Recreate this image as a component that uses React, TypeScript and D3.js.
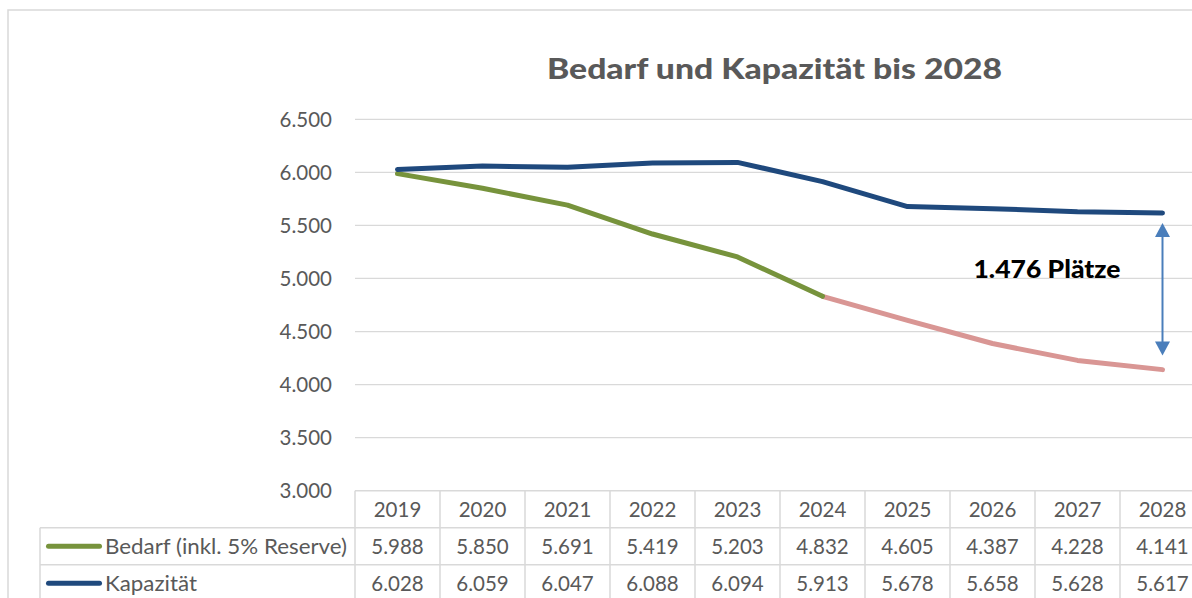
import React from 'react';
import * as d3 from 'd3';

const years = ['2019', '2020', '2021', '2022', '2023', '2024', '2025', '2026', '2027', '2028'];
const bedarf = [5988, 5850, 5691, 5419, 5203, 4832, 4605, 4387, 4228, 4141];
const kapazitaet = [6028, 6059, 6047, 6088, 6094, 5913, 5678, 5658, 5628, 5617];
const yTicks = [3000, 3500, 4000, 4500, 5000, 5500, 6000, 6500];
const lastActualYear = '2024';
const seriesNames = ['Bedarf (inkl. 5% Reserve)', 'Kapazität'];
const title = 'Bedarf und Kapazität bis 2028';
const gapLabel = '1.476 Plätze';

const FONT = 'Lato, "Open Sans", sans-serif';
const GRID = '#d9d9d9';
const TXT = '#595959';
const GREEN = '#77933c';
const PINK = '#d99694';
const BLUE = '#1f497d';
const ARROW = '#4a7ebb';

const de = d3.formatLocale({ decimal: ',', thousands: '.', grouping: [3], currency: ['', ' €'] });
const fmt = de.format(',d');

export default function App() {
  const W = 1192, H = 598;
  const plotLeft = 355, colW = 85;
  const plotRight = plotLeft + colW * years.length;
  const x = d3.scaleBand<string>().domain(years).range([plotLeft, plotRight]).paddingInner(0).paddingOuter(0);
  const cx = (yr: string) => (x(yr) as number) + x.bandwidth() / 2;
  const y = d3.scaleLinear().domain([3000, 6500]).range([490.7, 119.3]);

  const line = d3.line<[string, number]>().x(d => cx(d[0])).y(d => y(d[1]));
  const splitIdx = years.indexOf(lastActualYear);
  const bedPairs: [string, number][] = years.map((yr, i) => [yr, bedarf[i]]);
  const kapPairs: [string, number][] = years.map((yr, i) => [yr, kapazitaet[i]]);
  const bedActual = bedPairs.slice(0, splitIdx + 1);
  const bedForecast = bedPairs.slice(splitIdx);

  const tableTop = y(3000);
  const rowH = 37;
  const headerBottom = tableTop + rowH;
  const row1Bottom = headerBottom + rowH;
  const row2Bottom = row1Bottom + rowH;
  const tableLeft = 40;

  const lastYear = years[years.length - 1];
  const ax = cx(lastYear);
  const aTop = y(kapazitaet[kapazitaet.length - 1]) + 10;
  const aBot = y(bedarf[bedarf.length - 1]) - 14;
  const head = 14, headW = 7.5;

  const colLines = d3.range(years.length + 1).map(i => plotLeft + i * colW);
  const legX = 105;

  return (
    <svg width={W} height={H} style={{ position: 'absolute', left: 0, top: 0, background: '#fff' }} fontFamily={FONT}>
      <rect x={0} y={0} width={W} height={H} fill="#fff" />
      <rect x={8} y={10} width={W + 20} height={H + 20} fill="none" stroke={GRID} strokeWidth={1.5} />
      <text x={547} y={78.5} fontSize={28.5} fontWeight={900} fill={TXT} textLength={455} lengthAdjust="spacingAndGlyphs">{title}</text>

      {yTicks.map(t => (
        <g key={t}>
          {t > 3000 && <line x1={plotLeft} x2={W + 10} y1={y(t)} y2={y(t)} stroke={GRID} strokeWidth={1.3} />}
          <text x={332} y={y(t)} dy="0.36em" textAnchor="end" fontSize={20.5} fill={TXT}>{fmt(t)}</text>
        </g>
      ))}

      {/* table grid */}
      <line x1={plotLeft} x2={plotRight} y1={tableTop} y2={tableTop} stroke={GRID} strokeWidth={1.5} />
      <line x1={tableLeft} x2={plotRight} y1={headerBottom} y2={headerBottom} stroke={GRID} strokeWidth={1.5} />
      <line x1={tableLeft} x2={plotRight} y1={row1Bottom} y2={row1Bottom} stroke={GRID} strokeWidth={1.5} />
      <line x1={tableLeft} x2={plotRight} y1={row2Bottom} y2={row2Bottom} stroke={GRID} strokeWidth={1.5} />
      <line x1={tableLeft} x2={tableLeft} y1={headerBottom} y2={row2Bottom} stroke={GRID} strokeWidth={1.5} />
      {colLines.map(cxl => (
        <line key={cxl} x1={cxl} x2={cxl} y1={tableTop} y2={row2Bottom} stroke={GRID} strokeWidth={1.5} />
      ))}
      {years.map((yr, i) => (
        <g key={yr} fontSize={20.5} fill={TXT} textAnchor="middle">
          <text x={cx(yr)} y={tableTop + rowH / 2} dy="0.36em">{yr}</text>
          <text x={cx(yr)} y={headerBottom + rowH / 2} dy="0.36em">{fmt(bedarf[i])}</text>
          <text x={cx(yr)} y={row1Bottom + rowH / 2} dy="0.36em">{fmt(kapazitaet[i])}</text>
        </g>
      ))}
      {/* legend cells */}
      <line x1={48.5} x2={99.5} y1={headerBottom + rowH / 2} y2={headerBottom + rowH / 2} stroke={GREEN} strokeWidth={5} strokeLinecap="round" />
      <g transform={`translate(${legX},0) scale(1.09,1)`}>
        <text x={0} y={headerBottom + rowH / 2} dy="0.36em" fontSize={20.5} fill={TXT}>{seriesNames[0]}</text>
      </g>
      <line x1={48.5} x2={99.5} y1={row1Bottom + rowH / 2} y2={row1Bottom + rowH / 2} stroke={BLUE} strokeWidth={5} strokeLinecap="round" />
      <g transform={`translate(${legX},0) scale(1.09,1)`}>
        <text x={0} y={row1Bottom + rowH / 2} dy="0.36em" fontSize={20.5} fill={TXT}>{seriesNames[1]}</text>
      </g>

      {/* lines */}
      <path d={line(bedForecast) || ''} fill="none" stroke={PINK} strokeWidth={5} strokeLinecap="round" strokeLinejoin="round" />
      <path d={line(bedActual) || ''} fill="none" stroke={GREEN} strokeWidth={5} strokeLinecap="round" strokeLinejoin="round" />
      <path d={line(kapPairs) || ''} fill="none" stroke={BLUE} strokeWidth={5} strokeLinecap="round" strokeLinejoin="round" />

      {/* arrow */}
      <line x1={ax} x2={ax} y1={aTop + head - 1} y2={aBot - head + 1} stroke={ARROW} strokeWidth={2} />
      <polygon points={`${ax},${aTop} ${ax - headW},${aTop + head} ${ax + headW},${aTop + head}`} fill={ARROW} />
      <polygon points={`${ax},${aBot} ${ax - headW},${aBot - head} ${ax + headW},${aBot - head}`} fill={ARROW} />
      <text x={ax - 189} y={278} fontSize={24.5} fontWeight={900} fill="#000" textLength={147} lengthAdjust="spacingAndGlyphs">{gapLabel}</text>
    </svg>
  );
}
